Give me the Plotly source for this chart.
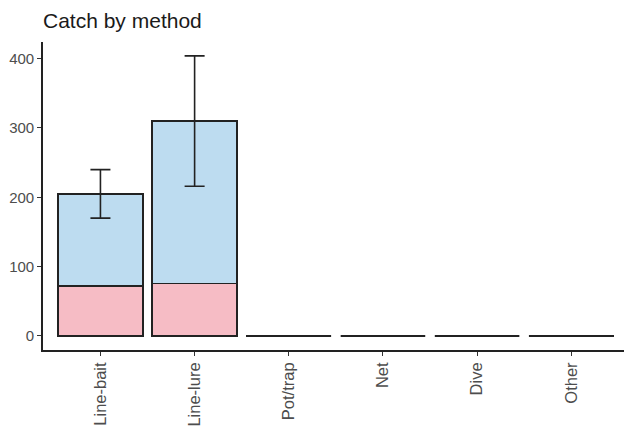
import plotly.graph_objects as go

categories = ["Line-bait", "Line-lure", "Pot/trap", "Net", "Dive", "Other"]
pink_vals = [72, 76, 0, 0, 0, 0]
blue_vals = [133, 234, 0, 0, 0, 0]
errors = [35, 94, 0, 0, 0, 0]

idx = list(range(len(categories)))
totals = [p + b for p, b in zip(pink_vals, blue_vals)]
bw = 0.9
outline = dict(color="#222222", width=1.6)

fig = go.Figure()
fig.add_trace(go.Bar(x=idx, y=pink_vals, width=bw, marker=dict(color="#f6bcc5", line=outline)))
fig.add_trace(go.Bar(x=idx, y=blue_vals, width=bw, marker=dict(color="#bddcf0", line=outline)))

# flat outlines for empty categories
lx, ly = [], []
for i, t in zip(idx, totals):
    if t == 0:
        lx += [i - bw / 2, i + bw / 2, None]
        ly += [t, t, None]
fig.add_trace(go.Scatter(x=lx, y=ly, mode="lines", line=dict(color="#222222", width=1.6), hoverinfo="skip"))

ex = [i for i, e in zip(idx, errors) if e > 0]
ey = [t for t, e in zip(totals, errors) if e > 0]
ee = [e for e in errors if e > 0]
fig.add_trace(go.Scatter(x=ex, y=ey, mode="markers", marker=dict(size=0.1, opacity=0),
                         error_y=dict(type="data", array=ee, symmetric=True, color="#222222",
                                      thickness=1.6, width=10)))

fig.update_layout(
    barmode="stack", bargap=0.1,
    width=624, height=436,
    margin=dict(l=43, r=0, t=42, b=86),
    paper_bgcolor="white", plot_bgcolor="white",
    showlegend=False,
    font=dict(family="Liberation Sans, Arial, sans-serif", color="#4d4d4d", size=15),
    title=dict(text="Catch by method", x=0, xref="paper", xanchor="left", y=1 - 21 / 436,
               yref="container", yanchor="middle", font=dict(size=21, color="#1a1a1a")),
)
fig.update_xaxes(
    range=[-0.61, 5.56], tickmode="array", tickvals=idx, ticktext=categories, tickangle=-90,
    tickfont=dict(size=16.5), automargin=False,
    showgrid=False, zeroline=False, showline=True, linecolor="#222222", linewidth=1.6,
    ticks="outside", ticklen=4, tickwidth=1.3, tickcolor="#333333",
)
fig.update_yaxes(
    range=[-20.2, 424], tickvals=[0, 100, 200, 300, 400], automargin=False,
    showgrid=False, zeroline=False, showline=True, linecolor="#222222", linewidth=1.6,
    ticks="outside", ticklen=4, tickwidth=1.3, tickcolor="#333333",
)
fig.write_html("out.html")
